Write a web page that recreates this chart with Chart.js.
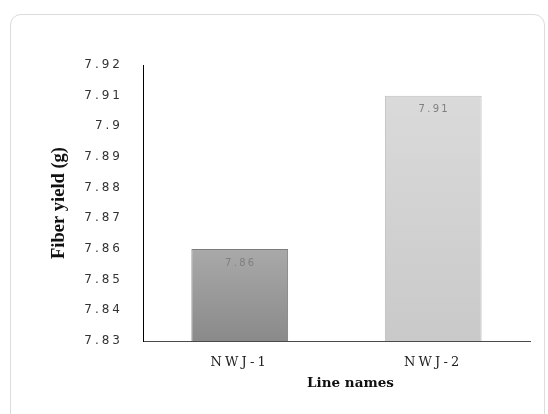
<!DOCTYPE html>
<html>
<head>
<meta charset="utf-8">
<title>Fiber yield</title>
<script src="https://cdn.jsdelivr.net/npm/chart.js@4/dist/chart.umd.min.js"></script>
<style>
  html, body { margin: 0; padding: 0; background: #fff; }
  #page { position: relative; width: 548px; height: 414px; overflow: hidden; }
  #frame {
    position: absolute; left: 10px; top: 14px; width: 535px; height: 430px;
    border: 1px solid #dcdcdc; border-radius: 11px; box-sizing: border-box;
  }
  #chart { position: absolute; left: 0; top: 0; }
</style>
</head>
<body>
<div id="page">
  <div id="frame"></div>
  <canvas id="chart" width="548" height="414"></canvas>
</div>
<script>
var lineNames = ["NWJ-1", "NWJ-2"];
var fiberYield = [7.86, 7.91];
var yTicks = [7.83, 7.84, 7.85, 7.86, 7.87, 7.88, 7.89, 7.9, 7.91, 7.92];
var barTop = ["#a9a9a9", "#dadada"];
var barBottom = ["#8a8a8a", "#c9c9c9"];
var barEdge = ["#7c7c7c", "#bdbdbd"];

// shading for each bar, from its own top down to the axis
function barFill(c) {
  var chart = c.chart;
  if (!chart.chartArea || !chart.scales.y) return barTop[c.dataIndex];
  var y0 = chart.scales.y.getPixelForValue(c.raw);
  var g = chart.ctx.createLinearGradient(0, y0, 0, chart.chartArea.bottom);
  g.addColorStop(0, barTop[c.dataIndex]);
  g.addColorStop(1, barBottom[c.dataIndex]);
  return g;
}

// tick labels are drawn with some extra letter spacing
function spacedLabels(scale, px) {
  if (scale._spaced) return;
  var draw = scale.drawLabels;
  scale.drawLabels = function (area) {
    this.ctx.save();
    this.ctx.letterSpacing = px + "px";
    draw.call(this, area);
    this.ctx.restore();
  };
  scale._spaced = true;
}

// the x title sits a little right of the axis centre
function nudgeTitle(scale, dx) {
  if (scale._nudged) return;
  var draw = scale.drawTitle;
  scale.drawTitle = function () {
    this.ctx.save();
    this.ctx.translate(dx, 0);
    draw.call(this);
    this.ctx.restore();
  };
  scale._nudged = true;
}

var valueLabels = {
  id: "valueLabels",
  afterDatasetsDraw: function (chart) {
    var ctx = chart.ctx;
    var meta = chart.getDatasetMeta(0);
    ctx.save();
    ctx.font = "10px 'DejaVu Sans'";
    ctx.letterSpacing = "2.3px";
    ctx.fillStyle = "#7f7f7f";
    ctx.textAlign = "center";
    ctx.textBaseline = "middle";
    meta.data.forEach(function (bar, i) {
      ctx.fillText(fiberYield[i].toFixed(2), bar.x + 1, bar.y + 14);
    });
    ctx.restore();
  }
};

new Chart(document.getElementById("chart"), {
  type: "bar",
  data: {
    labels: lineNames,
    datasets: [{
      data: fiberYield,
      backgroundColor: barFill,
      borderColor: barEdge,
      borderWidth: 1,
      borderSkipped: "bottom",
      categoryPercentage: 1,
      barPercentage: 0.5
    }]
  },
  options: {
    responsive: false,
    animation: false,
    events: [],
    layout: { padding: { left: 0, top: 65, right: 18, bottom: 22 } },
    plugins: { legend: { display: false }, tooltip: { enabled: false } },
    scales: {
      x: {
        grid: { display: false, drawTicks: false, tickLength: 0 },
        border: { display: true, color: "#4a4a4a", width: 1 },
        ticks: {
          color: "#222",
          padding: 14,
          font: { family: "'DejaVu Serif'", size: 13 }
        },
        title: {
          display: true,
          text: "Line names",
          color: "#111",
          padding: { top: 0, bottom: 0 },
          font: { family: "'DejaVu Serif'", size: 13.5, weight: "bold" }
        },
        afterFit: function (scale) {
          spacedLabels(scale, 3.2);
          nudgeTitle(scale, 14);
          scale.height = 51;
        }
      },
      y: {
        min: 7.83,
        max: 7.92,
        grid: { display: false, drawTicks: false, tickLength: 0 },
        border: { display: true, color: "#000", width: 1 },
        afterBuildTicks: function (scale) {
          scale.ticks = yTicks.map(function (v) { return { value: v }; });
        },
        ticks: {
          color: "#333",
          padding: 20,
          font: { family: "'DejaVu Sans'", size: 12 },
          callback: function (v) { return String(Number(v.toFixed(2))); }
        },
        title: {
          display: true,
          text: "Fiber yield (g)",
          color: "#111",
          padding: { top: 48, bottom: 0 },
          font: { family: "'Liberation Serif'", size: 18.5, weight: "bold" }
        },
        afterFit: function (scale) {
          spacedLabels(scale, 3);
          scale.width = 143;
        }
      }
    }
  },
  plugins: [valueLabels]
});
</script>
</body>
</html>
